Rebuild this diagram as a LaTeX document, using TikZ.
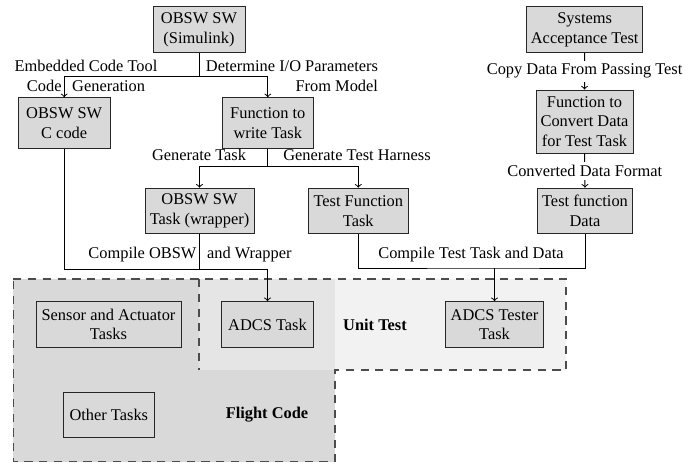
\documentclass[tikz,border=0pt]{standalone}
\usepackage{fontspec}
\setmainfont{Liberation Serif}
\begin{document}
\begin{tikzpicture}[x=0.61pt,y=-0.61pt,
  box/.style 2 args={draw=black!85, line width=0.6pt, fill=black!15, align=center, inner sep=2pt, minimum width={#1*0.61pt}, minimum height={#2*0.61pt}},
  conn/.style={line width=0.6pt},
  arr/.style={conn,->},
  lbl/.style={inner sep=1pt, align=center},
  onlbl/.style={lbl, fill=white, inner sep=2pt},
  region/.style={draw=black!70, dash pattern=on 5pt off 4pt, line width=0.7pt}]
\useasboundingbox (0,0) rectangle (699,464);
% regions
\fill[black!15] (13.3,279) rectangle (335,461.7);
\fill[black!10] (199,279) rectangle (335,370);
\fill[black!5] (335,279) rectangle (566,370);
\draw[region] (13.3,279) -- (566,279) -- (566,370) -- (335,370) -- (335,461.7) -- (13.3,461.7) -- cycle;
\draw[region] (199,279) -- (199,370);
% boxes
\node[box={92}{45.5}] (sim) at (199,29.5) {OBSW SW\\(Simulink)};
\node[box={92}{50.5}] (ccode) at (64.2,123) {OBSW SW\\C code};
\node[box={91}{50.5}] (writetask) at (267.8,123) {Function to\\write Task};
\node[box={109}{45.7}] (wrapper) at (199.5,211) {OBSW SW\\Task (wrapper)};
\node[box={100}{45.7}] (testfunc) at (358.3,211) {Test Function\\Task};
\node[box={95.4}{45.7}] (data) at (585,211) {Test function\\Data};
\node[box={116}{45.7}] (systems) at (584.7,29.5) {Systems\\Acceptance Test};
\node[box={97}{63}] (convert) at (584.5,121.5) {Function to\\Convert Data\\for Test Task};
\node[box={145}{45.7}] (sensor) at (108.5,324.5) {Sensor and Actuator\\Tasks};
\node[box={91.7}{45.7}] (adcs) at (267.5,324.5) {ADCS Task};
\node[box={91}{45}] (other) at (108.8,415) {Other Tasks};
\node[box={97.6}{45.7}] (tester) at (494.5,324.5) {ADCS Tester\\Task};
% region labels
\node[lbl, font=\bfseries] (lunit) at (375,325) {Unit Test};
\node[lbl, font=\bfseries] (lflight) at (267,415) {Flight Code};
% connector labels
\node[lbl] (lemb) at (86,76) {Embedded Code Tool\\Code\hspace{6.5pt}Generation};
\node[lbl, align=right, anchor=west] (ldet) at (204,76) {Determine I/O Parameters\\From Model\hspace{3pt}};
\node[lbl] (lgt) at (199,155) {Generate Task};
\node[lbl] (lgh) at (357,155) {Generate Test Harness};
\node[lbl] (lco) at (190,255) {Compile OBSW\hspace{6.5pt}and Wrapper};
\node[lbl] (lct) at (471,255) {Compile Test Task and Data};
% connectors
\coordinate (jS) at (199,76);
\draw[conn] (sim.south) -- (jS);
\draw[arr] (jS) -| (ccode.north);
\draw[arr] (jS) -| (writetask.north);
\coordinate (jW) at (267.8,166);
\draw[conn] (writetask.south) -- (jW);
\draw[arr] (jW) -| (wrapper.north);
\draw[arr] (jW) -| (testfunc.north);
\coordinate (jO) at (267.5,269);
\draw[conn] (ccode.south) |- (jO);
\draw[conn] (wrapper.south) |- (jO);
\draw[arr] (jO) -- (adcs.north);
\coordinate (jT) at (494.5,268);
\draw[conn] (testfunc.south) |- (jT) -| (data.south);
\draw[arr] (jT) -- (tester.north);
\draw[arr] (systems.south) -- node[onlbl] (lcopy) {Copy Data From Passing Test} (convert.north);
\draw[arr] (convert.south) -- node[onlbl] (lconv) {Converted Data Format} (data.north);
\end{tikzpicture}
\end{document}
